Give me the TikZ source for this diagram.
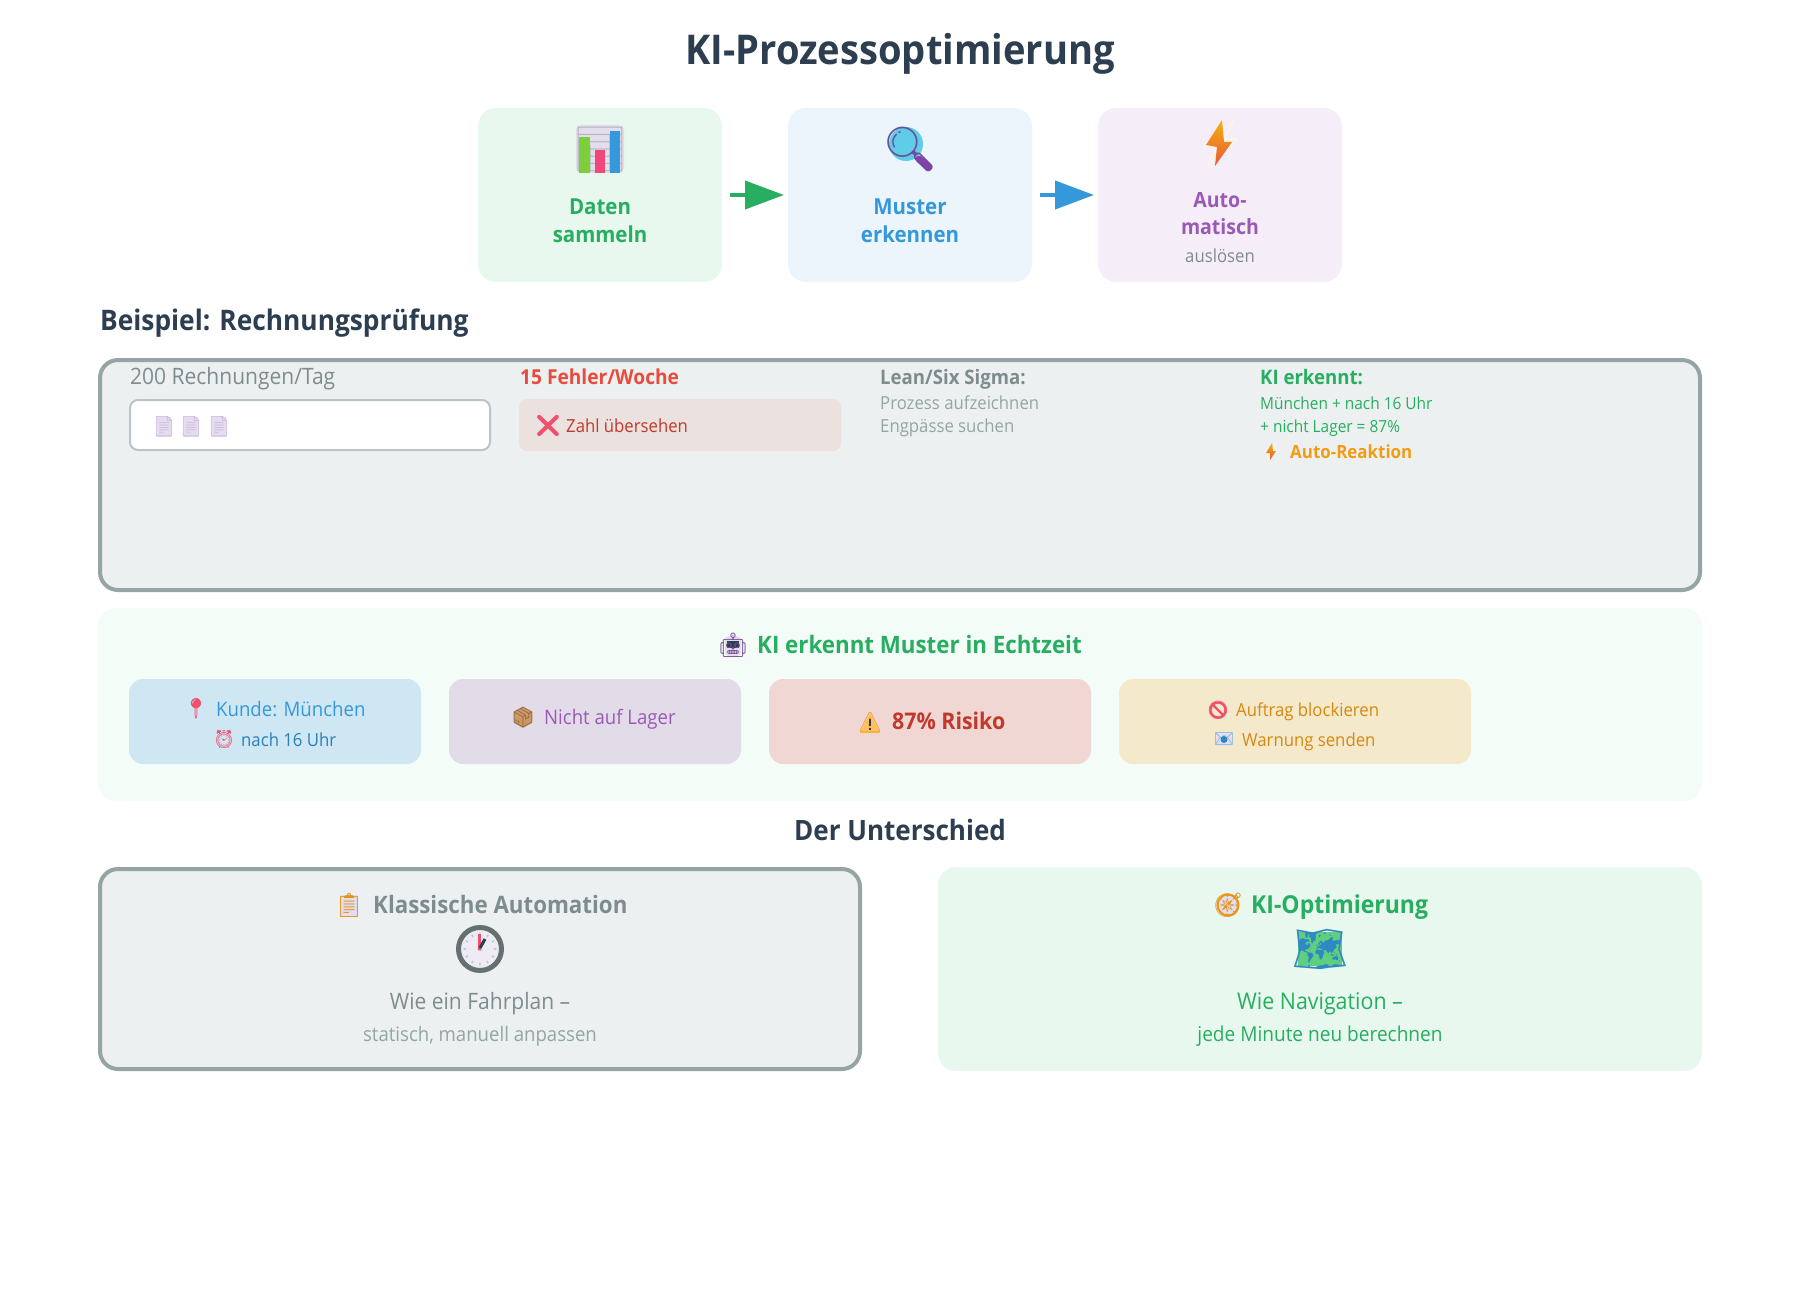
\documentclass[tikz,border=0pt]{standalone}
\usepackage{fontspec}
\usepackage{xcolor}
\usepackage{tikz}
\usetikzlibrary{arrows.meta}
\setmainfont[FakeStretch=0.93]{Open Sans}
\newfontfamily\emojifont{Noto Emoji}
\definecolor{ink}{HTML}{2C3E50}
\definecolor{green}{HTML}{27AE60}
\definecolor{blue}{HTML}{3498DB}
\definecolor{darkblue}{HTML}{2980B9}
\definecolor{purple}{HTML}{9B59B6}
\definecolor{red}{HTML}{E74C3C}
\definecolor{darkred}{HTML}{C0392B}
\definecolor{orange}{HTML}{F39C12}
\definecolor{darkorange}{HTML}{D68910}
\definecolor{gray}{HTML}{7F8C8D}
\definecolor{lightgray}{HTML}{95A5A6}
\definecolor{rim}{HTML}{BDC3C7}
\definecolor{panelbg}{HTML}{ECF0F1}
\definecolor{greenbg}{HTML}{E8F8EF}
\definecolor{bluebg}{HTML}{EBF5FB}
\definecolor{purplebg}{HTML}{F5EEF8}
\definecolor{mintbg}{HTML}{F4FCF8}
\definecolor{redbg}{HTML}{EBE1DF}
\definecolor{chipblue}{HTML}{CFE6F3}
\definecolor{chippurple}{HTML}{E2DBE8}
\definecolor{chipred}{HTML}{F0D7D3}
\definecolor{chipyellow}{HTML}{F5E9CC}
\definecolor{lavender}{HTML}{E3DDEE}
\definecolor{pinkred}{HTML}{F0506E}
\definecolor{lensblue}{HTML}{5FCDE8}
\definecolor{lensrim}{HTML}{6B4E9B}
\definecolor{boxbrown}{HTML}{C89A6B}
\definecolor{warnyellow}{HTML}{FFC061}
\definecolor{mapgreen}{HTML}{5FCF7F}
\tikzset{
  card/.style={rounded corners=18pt, inner sep=0pt, outer sep=0pt},
  framed/.style={card, draw=lightgray, line width=4pt, fill=panelbg},
  chip/.style={rounded corners=14pt, inner sep=0pt, outer sep=0pt, minimum height=85pt},
  flow/.style={line width=4pt, -{Triangle[length=39pt, width=28pt]}, shorten <=8pt, shorten >=4pt, yshift=1pt},
  txt/.style={inner sep=0pt, anchor=base west},
  mid/.style={inner sep=0pt, anchor=base},
  head/.style={txt, font=\fontsize{28.3}{34}\selectfont\bfseries, text=ink},
  b24/.style={font=\fontsize{24}{29}\selectfont\bfseries},
  b22/.style={font=\fontsize{22}{27}\selectfont\bfseries},
  b21/.style={font=\fontsize{21}{26}\selectfont\bfseries},
  b20/.style={font=\fontsize{20}{24}\selectfont\bfseries},
  b18/.style={font=\fontsize{18.2}{22}\selectfont\bfseries},
  n22/.style={font=\fontsize{22.6}{27}\selectfont},
  n20/.style={font=\fontsize{20}{24}\selectfont},
  n18/.style={font=\fontsize{18}{22}\selectfont},
  n16/.style={font=\fontsize{16.6}{20}\selectfont},
  emo/.style={inner sep=0pt, anchor=center, font=\fontsize{#1}{#1}\selectfont\emojifont},
}

\begin{document}
\begin{tikzpicture}[x=1pt, y=-1pt]
  \useasboundingbox (0,0) rectangle (1800,1300);
  \node[inner sep=0pt, anchor=base, text=ink, font=\fontsize{41}{48}\selectfont\bfseries] (title) at (900,64.5) {KI-Prozessoptimierung};

  % steps
  \node[card, fill=greenbg, minimum width=244pt, minimum height=174pt] (daten) at (600,195) {};
  \node[card, fill=bluebg, minimum width=244pt, minimum height=174pt] (muster) at (910,195) {};
  \node[card, fill=purplebg, minimum width=244pt, minimum height=174pt] (auto) at (1220,195) {};
  \draw[flow, draw=green, fill=green] (daten) -- (muster);
  \draw[flow, draw=blue, fill=blue] (muster) -- (auto);
  \fill[lavender, rounded corners=5pt] (576,125) rectangle (624,173);
  \node[emo=44, text=gray!60] (chart) at (600,149) {📊};
  \fill[green!60!yellow] (579,137) rectangle (590,173);
  \fill[pinkred!90!magenta] (595,150) rectangle (605,173);
  \fill[blue] (610,131) rectangle (620,173);
  \fill[lensblue] (906,144) circle (17);
  \draw[lensrim!80!magenta, line width=7pt, line cap=round] (919,159) -- (928,167);
  \node[emo=44, text=lensrim] (lens) at (910,149) {🔍};
  \node[emo=44, text=orange!10] (bolt) at (1220,143) {⚡};
  \shade[top color=orange!80!yellow, bottom color=red!85!orange] (1222,120) -- (1206,145) -- (1217,147) -- (1215,166) -- (1232,142) -- (1224,142) -- cycle;
  \node[mid, b22, text=green] (daten1) at (600,215) {Daten};
  \node[mid, b22, text=green] (daten2) at (600,243) {sammeln};
  \node[mid, b22, text=blue] (muster1) at (910,215) {Muster};
  \node[mid, b22, text=blue] (muster2) at (910,243) {erkennen};
  \node[mid, b21, text=purple] (auto1) at (1220,208) {Auto-};
  \node[mid, b21, text=purple] (auto2) at (1220,235) {matisch};
  \node[mid, n18, text=gray] (auto3) at (1220,262) {auslösen};

  % example
  \node[head] (beispiel) at (100,330) {Beispiel: Rechnungsprüfung};
  \node[framed, minimum width=1600pt, minimum height=230pt] (panel) at (900,475) {};
  \node[txt, n22, text=gray] (menge) at (130,384) {200 Rechnungen/Tag};
  \node[rounded corners=8pt, draw=rim, line width=2pt, fill=white, minimum width=360pt, minimum height=50pt, inner sep=0pt] (stapel) at (310,425) {};
  \foreach \x/\n in {164/a,191/b,219/c}{
    \fill[lavender] ({\x-7},417) rectangle ({\x+7},437);
    \node[emo=20, text=purple!45] (doc\n) at (\x,427) {📄};
  }
  \node[txt, text=red, font=\fontsize{20.6}{24}\selectfont\bfseries] (fehler) at (520,384) {15 Fehler/Woche};
  \node[rounded corners=8pt, fill=redbg, minimum width=322pt, minimum height=52pt, inner sep=0pt] (fehlerbox) at (680,425) {};
  \node[emo=22, text=pinkred] (kreuz) at (548,426) {❌};
  \node[txt, n18, text=darkred] (zahl) at (566,432) {Zahl übersehen};
  \node[txt, b20, text=gray] (lean) at (880,384) {Lean/Six Sigma:};
  \node[txt, n18, text=lightgray] (lean1) at (880,409.5) {Prozess aufzeichnen};
  \node[txt, n18, text=lightgray] (lean2) at (880,432) {Engpässe suchen};
  \node[txt, b20, text=green] (ki) at (1260,384) {KI erkennt:};
  \node[txt, n16, text=green] (ki1) at (1260,409.5) {München + nach 16 Uhr};
  \node[txt, n16, text=green] (ki2) at (1260,432) {+ nicht Lager = 87\%};
  \node[emo=18, text=orange!10] (blitz) at (1271,452) {⚡};
  \shade[top color=orange!80!yellow, bottom color=red!85!orange] (1272,443) -- (1266,453) -- (1270,453) -- (1270,460) -- (1276,451) -- (1273,451) -- cycle;
  \node[txt, b18, text=orange] (reaktion) at (1290,458) {Auto-Reaktion};

  % realtime
  \node[card, fill=mintbg, minimum width=1604pt, minimum height=193pt] (echtzeit) at (900,704.5) {};
  \fill[lavender, rounded corners=4pt] (725,636) rectangle (741,656);
  \fill[ink] (727,641) rectangle (739,648);
  \node[emo=24, text=purple!70!ink] (robot) at (733,645) {🤖};
  \node[txt, b24, text=green] (echtzeit0) at (757,653) {KI erkennt Muster in Echtzeit};
  \node[chip, fill=chipblue, minimum width=292pt] (kunde) at (275,721.5) {};
  \node[chip, fill=chippurple, minimum width=292pt] (lager) at (595,721.5) {};
  \node[chip, fill=chipred, minimum width=322pt] (risiko) at (930,721.5) {};
  \node[chip, fill=chipyellow, minimum width=352pt] (aktion) at (1295,721.5) {};
  \node[emo=20, text=pinkred] (pin) at (196,709) {📍};
  \node[txt, n20, text=blue] (kunde1) at (216,716) {Kunde: München};
  \node[emo=18, text=pinkred] (wecker) at (224,739) {⏰};
  \node[txt, n18, text=darkblue] (kunde2) at (241,746) {nach 16 Uhr};
  \fill[boxbrown] (523,707) -- (532,712) -- (532,723) -- (523,728) -- (514,723) -- (514,712) -- cycle;
  \node[emo=20, text=brown!80!black] (paket) at (523,717) {📦};
  \node[txt, n20, text=purple] (lager1) at (544,724) {Nicht auf Lager};
  \fill[warnyellow] (870,713) -- (880,733) -- (860,733) -- cycle;
  \node[emo=20, text=orange] (warn) at (870,723) {⚠};
  \draw[ink, line width=1.5pt] (870,719) -- (870,726) (870,728) -- (870,730);
  \node[txt, text=darkred, font=\fontsize{23}{27}\selectfont\bfseries] (risiko1) at (892,729) {87\% Risiko};
  \node[emo=18, text=pinkred] (stopp) at (1218,710) {🚫};
  \draw[pinkred, line width=2.2pt] (1218,710) circle (7.5) (1213,705) -- (1223,715);
  \node[txt, n18, text=darkorange] (aktion1) at (1236,716) {Auftrag blockieren};
  \fill[lavender] (1216,733) rectangle (1232,746);
  \node[emo=16, text=blue!70!lavender] (mail) at (1224,739) {📧};
  \fill[blue!80!ink] (1224,739.5) circle (3.5);
  \node[txt, n18, text=darkorange] (aktion2) at (1242,746) {Warnung senden};

  % comparison
  \node[mid, font=\fontsize{28}{34}\selectfont\bfseries, text=ink] (unterschied) at (900,840) {Der Unterschied};
  \node[framed, minimum width=760pt, minimum height=200pt] (klassisch) at (480,969) {};
  \node[card, fill=greenbg, minimum width=764pt, minimum height=204pt] (optimiert) at (1320,969) {};
  \fill[lavender] (341,895) rectangle (357,916);
  \node[emo=24, text=orange!70!brown] (liste) at (349,905) {📋};
  \node[txt, b24, text=gray] (klassisch0) at (373,913) {Klassische Automation};
  \fill[lavender!60!white] (480,949) circle (21);
  \node[emo=44, text=gray!50] (uhr) at (480,949) {🕐};
  \draw[gray!80!black, line width=5pt] (480,949) circle (21.5);
  \draw[pinkred, line width=3pt] (479,950) -- (479,934);
  \draw[ink, line width=3pt] (480,948) -- (485,939);
  \node[mid, n22, text=gray] (klassisch1) at (480,1009) {Wie ein Fahrplan –};
  \node[mid, n20, text=lightgray] (klassisch2) at (480,1041) {statisch, manuell anpassen};
  \fill[lavender] (1228,905) circle (10);
  \node[emo=24, text=orange!70!brown] (kompass) at (1228,905) {🧭};
  \draw[orange!80!brown, line width=2pt] (1228,905) circle (10.5);
  \node[txt, text=green, font=\fontsize{24.7}{29}\selectfont\bfseries] (optimiert0) at (1251,913) {KI-Optimierung};
  \fill[mapgreen] (1298,932) rectangle (1342,966);
  \node[emo=44, text=blue!90!black] (karte) at (1320,949) {🗺};
  \node[mid, text=green, font=\fontsize{23}{27}\selectfont] (optimiert1) at (1320,1009) {Wie Navigation –};
  \node[mid, text=green, font=\fontsize{20.5}{24}\selectfont] (optimiert2) at (1320,1041) {jede Minute neu berechnen};
\end{tikzpicture}
\end{document}
